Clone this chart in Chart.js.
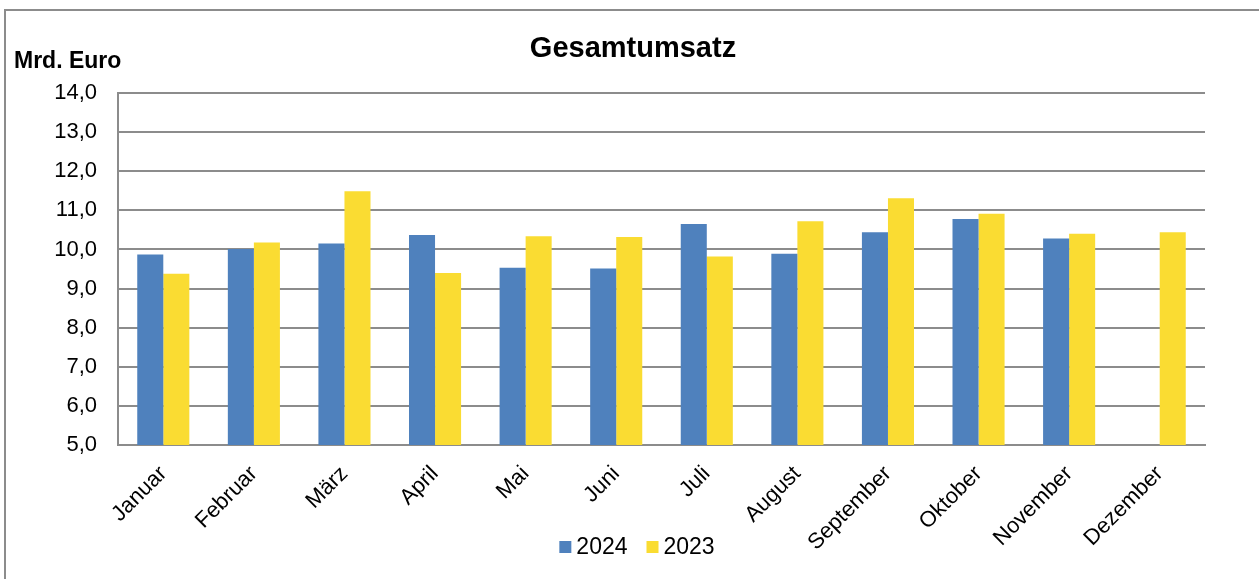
<!DOCTYPE html>
<html>
<head>
<meta charset="utf-8">
<script src="https://cdn.jsdelivr.net/npm/chart.js@4.4.1/dist/chart.umd.min.js"></script>
<style>
  html, body { margin: 0; padding: 0; background: #fff; }
  #wrap { width: 1259px; height: 579px; position: relative; }
</style>
</head>
<body>
<div id="wrap"><canvas id="c" width="1259" height="579"></canvas></div>
<script>
const months = ['Januar','Februar','März','April','Mai','Juni','Juli','August','September','Oktober','November','Dezember'];
const values2024 = [9.87, 10.01, 10.15, 10.37, 9.53, 9.51, 10.65, 9.89, 10.44, 10.78, 10.28, null];
const values2023 = [9.38, 10.18, 11.49, 9.40, 10.34, 10.32, 9.82, 10.72, 11.31, 10.91, 10.40, 10.44];
const seriesLabels = ['2024', '2023'];
const chartTitle = 'Gesamtumsatz';
const unitLabel = 'Mrd. Euro';

const FONT = "'Liberation Sans', Arial, sans-serif";

const decor = {
  id: 'decor',
  afterDraw(chart) {
    const ctx = chart.ctx;
    ctx.save();
    // outer frame
    ctx.strokeStyle = '#8c8c8c';
    ctx.lineWidth = 2;
    ctx.strokeRect(5, 10, 1300, 620);
    // title
    ctx.fillStyle = '#000';
    ctx.font = "bold 29px " + FONT;
    ctx.textAlign = 'center';
    ctx.textBaseline = 'alphabetic';
    ctx.fillText(chartTitle, 633, 57);
    // unit label
    ctx.font = "bold 23px " + FONT;
    ctx.textAlign = 'left';
    ctx.fillText(unitLabel, 14, 68);
    // legend
    ctx.font = "23px " + FONT;
    const items = chart.data.datasets.map(d => ({ text: d.label, color: d.backgroundColor, w: ctx.measureText(d.label).width }));
    const box = 12, gapBT = 5, gapItems = 19;
    let total = 0;
    items.forEach((it, i) => { total += box + gapBT + it.w + (i < items.length - 1 ? gapItems : 0); });
    let x = 637 - total / 2;
    const cy = 547;
    items.forEach(it => {
      ctx.fillStyle = it.color;
      ctx.fillRect(x, cy - box / 2, box, box);
      x += box + gapBT;
      ctx.fillStyle = '#000';
      ctx.textBaseline = 'middle';
      ctx.fillText(it.text, x, cy + 1);
      x += it.w + gapItems;
    });
    ctx.restore();
  }
};

new Chart(document.getElementById('c'), {
  type: 'bar',
  data: {
    labels: months,
    datasets: [
      { label: seriesLabels[0], data: values2024, backgroundColor: '#4f81bd', categoryPercentage: 0.575, barPercentage: 1.0 },
      { label: seriesLabels[1], data: values2023, backgroundColor: '#fadc32', categoryPercentage: 0.575, barPercentage: 1.0 }
    ]
  },
  options: {
    responsive: false,
    animation: false,
    devicePixelRatio: 1,
    layout: { padding: { top: 93, right: 54, left: 0, bottom: 0 } },
    plugins: {
      legend: { display: false },
      title: { display: false },
      tooltip: { enabled: false }
    },
    scales: {
      x: {
        grid: { display: false },
        border: { display: true, color: '#8c8c8c', width: 2 },
        ticks: {
          color: '#000',
          font: { family: FONT, size: 22 },
          minRotation: 45,
          maxRotation: 45,
          autoSkip: false,
          padding: 8
        },
        afterFit(scale) { scale.height = 134; }
      },
      y: {
        min: 5,
        max: 14,
        grid: { color: '#8c8c8c', lineWidth: 2, drawTicks: false },
        border: { display: true, color: '#8c8c8c', width: 2 },
        ticks: {
          stepSize: 1,
          color: '#000',
          font: { family: FONT, size: 22 },
          padding: 21,
          callback: v => v.toFixed(1).replace('.', ',')
        },
        afterFit(scale) { scale.width = 118; }
      }
    }
  },
  plugins: [decor]
});
</script>
</body>
</html>
